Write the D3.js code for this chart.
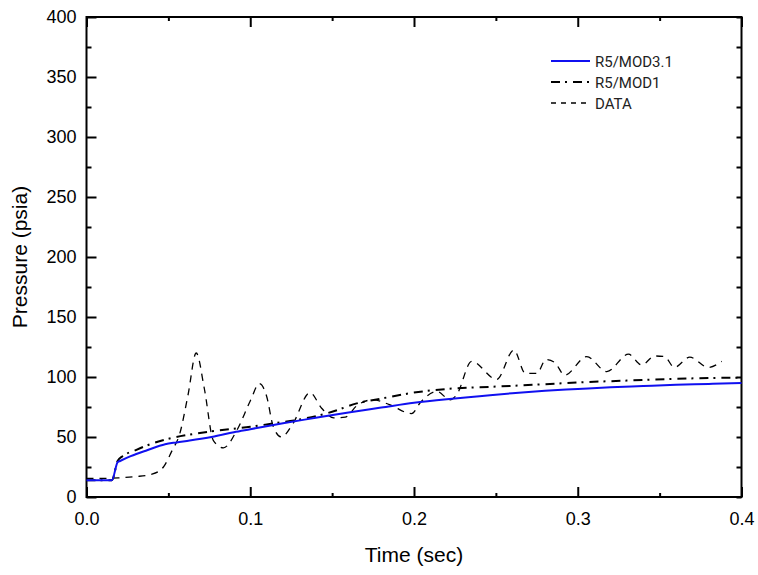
<!DOCTYPE html>
<html>
<head>
<meta charset="utf-8">
<script src="https://cdn.jsdelivr.net/npm/d3@7"></script>
<style>
  body { margin: 0; background: #fff; }
  svg { display: block; font-family: "Liberation Sans", Arial, sans-serif; }
</style>
</head>
<body>
<svg id="chart" width="758" height="575"></svg>
<script>
// Series (time in sec, pressure in psia)
const mod31Time = [0, 0.0155, 0.019, 0.0205, 0.027, 0.037, 0.048, 0.055, 0.063, 0.07, 0.078, 0.09, 0.1, 0.12, 0.14, 0.16, 0.18, 0.2, 0.22, 0.24, 0.26, 0.28, 0.3, 0.32, 0.34, 0.36, 0.38, 0.4];
const mod31Pres = [14, 14, 29, 30, 34, 39, 44, 45.5, 47, 48.5, 50.5, 54, 56.5, 61.5, 66, 70.5, 74.5, 78.5, 81.5, 84, 86.5, 88.5, 90, 91.5, 92.5, 93.5, 94.2, 95];

const mod1Time = [0, 0.0155, 0.019, 0.022, 0.03, 0.037, 0.05, 0.063, 0.078, 0.1, 0.115, 0.13, 0.15, 0.165, 0.18, 0.2, 0.22, 0.25, 0.28, 0.3, 0.33, 0.36, 0.4];
const mod1Pres = [14, 14, 30, 34, 39, 43, 48.5, 52, 55, 58.5, 61.5, 64.5, 71, 78, 82, 87, 90, 92, 94, 95.5, 97, 98.5, 99.5];

const dataTime = [0, 0.01, 0.02, 0.03, 0.04, 0.047, 0.052, 0.057, 0.062, 0.067, 0.072, 0.0775, 0.0836, 0.092, 0.1, 0.1056, 0.11, 0.114, 0.119, 0.126, 0.1365, 0.1436, 0.151, 0.158, 0.165, 0.175, 0.185, 0.1985, 0.204, 0.214, 0.222, 0.226, 0.2352, 0.2505, 0.261, 0.268, 0.275, 0.2806, 0.286, 0.292, 0.3055, 0.3177, 0.331, 0.339, 0.347, 0.353, 0.359, 0.3684, 0.3797, 0.388];
const dataPres = [15.5, 15.5, 16, 17, 19, 25, 38, 53, 85, 120, 90, 47, 41, 56, 80, 94.5, 84, 59, 50, 61, 87, 74, 66, 66.5, 76, 81, 77, 69.5, 79, 88, 81, 85, 113, 98, 122.5, 103, 103, 114.5, 112, 101.5, 117, 104.5, 119, 110, 117.5, 117, 108, 116.5, 108, 113];

const xMajor = [0, 0.1, 0.2, 0.3, 0.4];
const xMinor = [0.05, 0.15, 0.25, 0.35];
const yMajor = [0, 50, 100, 150, 200, 250, 300, 350, 400];
const yMinor = [25, 75, 125, 175, 225, 275, 325, 375];

const legendNames = ["R5/MOD3.1", "R5/MOD1", "DATA"];

const svg = d3.select("#chart");
const margin = { left: 86.5, right: 741.5, top: 17, bottom: 497 };

const x = d3.scaleLinear().domain([0, 0.4]).range([margin.left, margin.right]);
const y = d3.scaleLinear().domain([0, 400]).range([margin.bottom, margin.top]);

// series styles
const styles = [
  { color: "#1010f0", width: 2, dash: null },
  { color: "#000", width: 2, dash: "9,5,2,6" },
  { color: "#000", width: 1.3, dash: "7,6" }
];

// axes, all ticks point inward
function styleAxis(g) {
  g.select(".domain").remove();
  g.selectAll(".tick line").attr("stroke", "#000").attr("stroke-width", 2);
  g.selectAll("text").attr("fill", "#000").attr("font-size", 18);
}

svg.append("g")
  .attr("transform", `translate(0,${margin.bottom})`)
  .call(d3.axisBottom(x).tickValues(xMajor).tickSize(-10).tickPadding(15).tickFormat(d3.format(".1f")))
  .call(styleAxis);
svg.append("g")
  .attr("transform", `translate(0,${margin.bottom})`)
  .call(d3.axisBottom(x).tickValues(xMinor).tickSize(-4).tickFormat(""))
  .call(styleAxis);
svg.append("g")
  .attr("transform", `translate(0,${margin.top})`)
  .call(d3.axisTop(x).tickValues(xMajor).tickSize(-10).tickFormat(""))
  .call(styleAxis);
svg.append("g")
  .attr("transform", `translate(0,${margin.top})`)
  .call(d3.axisTop(x).tickValues(xMinor).tickSize(-4).tickFormat(""))
  .call(styleAxis);

svg.append("g")
  .attr("transform", `translate(${margin.left},0)`)
  .call(d3.axisLeft(y).tickValues(yMajor).tickSize(-10).tickPadding(10))
  .call(styleAxis);
svg.append("g")
  .attr("transform", `translate(${margin.left},0)`)
  .call(d3.axisLeft(y).tickValues(yMinor).tickSize(-5).tickFormat(""))
  .call(styleAxis);
svg.append("g")
  .attr("transform", `translate(${margin.right},0)`)
  .call(d3.axisRight(y).tickValues(yMajor.concat(yMinor)).tickSize(-5).tickFormat(""))
  .call(styleAxis);

// frame
svg.append("rect")
  .attr("x", margin.left).attr("y", margin.top)
  .attr("width", margin.right - margin.left)
  .attr("height", margin.bottom - margin.top)
  .attr("fill", "none").attr("stroke", "#000").attr("stroke-width", 2);

// lines
const series = [
  d3.zip(mod31Time, mod31Pres),
  d3.zip(mod1Time, mod1Pres),
  d3.zip(dataTime, dataPres)
];

const line = d3.line()
  .x(d => x(d[0]))
  .y(d => y(d[1]))
  .curve(d3.curveMonotoneX);

// draw data first, then MOD1, then MOD3.1 on top
[2, 1, 0].forEach(i => {
  svg.append("path")
    .datum(series[i])
    .attr("d", line)
    .attr("fill", "none")
    .attr("stroke", styles[i].color)
    .attr("stroke-width", styles[i].width)
    .attr("stroke-dasharray", styles[i].dash);
});

// legend
const legend = svg.append("g").attr("transform", "translate(551,61)");
legendNames.forEach((name, i) => {
  const row = legend.append("g").attr("transform", `translate(0,${i * 21})`);
  row.append("line")
    .attr("x1", 0).attr("x2", 39)
    .attr("stroke", styles[i].color)
    .attr("stroke-width", styles[i].width)
    .attr("stroke-dasharray", i === 2 ? "5,5" : styles[i].dash);
  row.append("text")
    .attr("x", 44).attr("y", 5.5)
    .attr("font-family", "Roboto, sans-serif")
    .attr("font-size", 15)
    .attr("fill", "#222")
    .text(name);
});

// axis titles
svg.append("text")
  .attr("x", (margin.left + margin.right) / 2)
  .attr("y", 562)
  .attr("text-anchor", "middle")
  .attr("font-size", 21)
  .text("Time (sec)");

svg.append("text")
  .attr("transform", `translate(27,${(margin.top + margin.bottom) / 2}) rotate(-90)`)
  .attr("text-anchor", "middle")
  .attr("font-size", 21)
  .text("Pressure (psia)");
</script>
</body>
</html>
